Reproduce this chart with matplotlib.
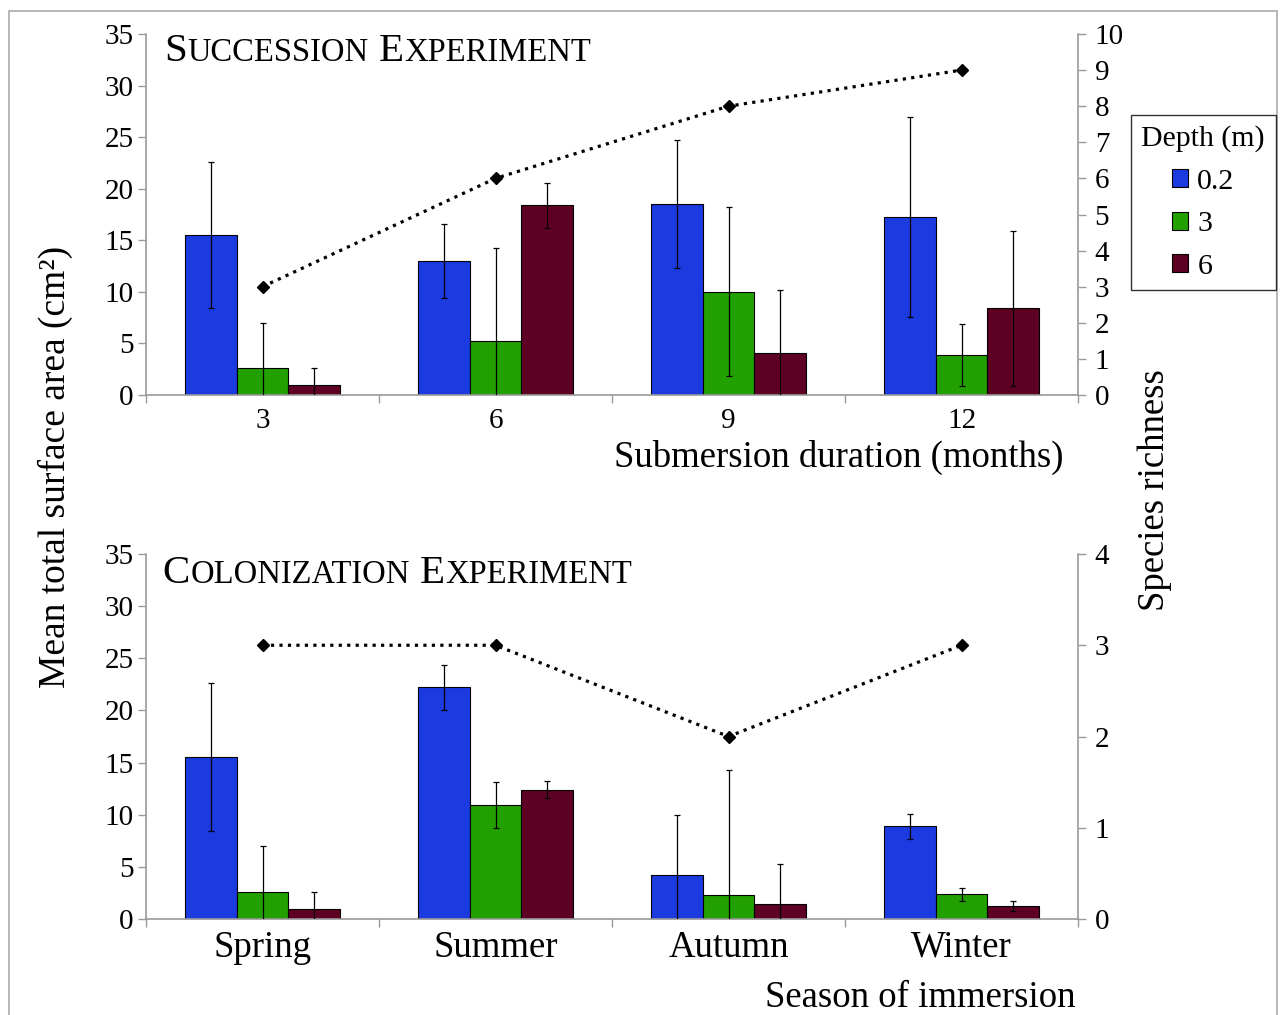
import numpy as np
import matplotlib.pyplot as plt
from matplotlib.patches import Patch, Rectangle
from matplotlib.offsetbox import TextArea, HPacker, AnchoredOffsetbox

plt.rcParams['font.family'] = ['Liberation Serif', 'DejaVu Serif']

# === data ===
depths = ['0.2', '3', '6']
colors = ['#1b3be0', '#22a000', '#5e0024']

months = ['3', '6', '9', '12']
succ_area_02 = [15.5, 13.0, 18.5, 17.3]
succ_err_02 = [7.1, 3.6, 6.2, 9.7]
succ_area_3 = [2.6, 5.2, 10.0, 3.9]
succ_err_3 = [4.4, 9.1, 8.2, 3.0]
succ_area_6 = [1.0, 18.4, 4.1, 8.4]
succ_err_6 = [1.6, 2.2, 6.1, 7.5]
succ_richness = [3, 6, 8, 9]

seasons = ['Spring', 'Summer', 'Autumn', 'Winter']
col_area_02 = [15.5, 22.2, 4.2, 8.9]
col_err_02 = [7.1, 2.2, 5.8, 1.2]
col_area_3 = [2.6, 10.9, 2.3, 2.35]
col_err_3 = [4.4, 2.2, 12.0, 0.6]
col_area_6 = [1.0, 12.4, 1.4, 1.25]
col_err_6 = [1.6, 0.8, 3.9, 0.45]
col_richness = [3, 3, 2, 3]

GRAY = '#9a9a9a'
W, H = 1285, 1015
TICK_FS = 21


def small_caps(ax, words, x, y, big=29.5, small=23.5):
    parts = []
    for i, w in enumerate(words):
        if i > 0:
            parts.append(TextArea(' ', textprops=dict(size=big)))
        parts.append(TextArea(w[0], textprops=dict(size=big)))
        parts.append(TextArea(w[1:].upper(), textprops=dict(size=small)))
    box = HPacker(children=parts, align='baseline', pad=0, sep=0)
    anc = AnchoredOffsetbox(loc='lower left', child=box, pad=0, borderpad=0,
                            frameon=False, bbox_to_anchor=(x, y),
                            bbox_transform=ax.transAxes)
    ax.add_artist(anc)


def draw_panel(ax, cats, areas, errs, richness, rmax, cat_size, cat_pad):
    x = np.arange(len(cats))
    bw = 0.222
    for k in range(3):
        ax.bar(x + (k - 1) * bw, areas[k], bw, color=colors[k],
               edgecolor='black', linewidth=0.8, zorder=2)
        ax.errorbar(x + (k - 1) * bw, areas[k], yerr=errs[k], fmt='none',
                    ecolor='black', elinewidth=0.9, capsize=2.3,
                    capthick=0.9, zorder=3)
    ax.set_xlim(-0.5, len(cats) - 0.5)
    ax.set_ylim(0, 35)
    ax.set_yticks(range(0, 36, 5))
    ax.set_xticks(x)
    ax.set_xticklabels(cats, fontsize=cat_size)
    ax.set_xticks(np.arange(-0.5, len(cats)), minor=True)
    ax.tick_params(axis='x', which='major', length=0, pad=cat_pad)
    ax.tick_params(axis='x', which='minor', length=6, color=GRAY, width=1)
    ax.tick_params(axis='y', labelsize=TICK_FS, length=6, color=GRAY, width=1, pad=3)
    for s in ['top', 'right']:
        ax.spines[s].set_visible(False)
    for s in ['left', 'bottom']:
        ax.spines[s].set_color(GRAY)
        ax.spines[s].set_linewidth(1.2)

    ax2 = ax.twinx()
    ax2.plot(x, richness, color='black', linestyle=':', linewidth=2.3,
             marker='D', markersize=6, zorder=4)
    ax2.set_ylim(0, rmax)
    ax2.set_yticks(range(0, rmax + 1))
    ax2.tick_params(axis='y', labelsize=TICK_FS, length=6, color=GRAY, width=1, pad=6)
    for s in ['top', 'left', 'bottom']:
        ax2.spines[s].set_visible(False)
    ax2.spines['right'].set_color(GRAY)
    ax2.spines['right'].set_linewidth(1.2)
    return ax2


fig = plt.figure(figsize=(W / 100, H / 100), dpi=100)
left, right = 146 / W, 1078 / W
ax_top = fig.add_axes([left, 1 - 395 / H, right - left, 361 / H])
ax_bot = fig.add_axes([left, 1 - 919 / H, right - left, 365 / H])

draw_panel(ax_top, months, [succ_area_02, succ_area_3, succ_area_6],
           [succ_err_02, succ_err_3, succ_err_6], succ_richness, 10, 21, 9)
draw_panel(ax_bot, seasons, [col_area_02, col_area_3, col_area_6],
           [col_err_02, col_err_3, col_err_6], col_richness, 4, 26.5, 8)

small_caps(ax_top, ['Succession', 'Experiment'], 0.020, 0.900)
small_caps(ax_bot, ['Colonization', 'Experiment'], 0.018, 0.895)

ax_top.set_xlabel('Submersion duration (months)', fontsize=26.5, ha='right')
ax_top.xaxis.set_label_coords(0.984, -0.125)
ax_bot.set_xlabel('Season of immersion', fontsize=26.5, ha='right')
ax_bot.xaxis.set_label_coords(0.997, -0.168)

fig.text(55 / W, 1 - 467 / H, 'Mean total surface area (cm²)', fontsize=27,
         rotation=90, ha='center', va='center')
fig.text(1155 / W, 1 - 490 / H, 'Species richness', fontsize=26.5,
         rotation=90, ha='center', va='center')

handles = [Patch(facecolor=c, edgecolor='black', linewidth=0.8) for c in colors]
leg = fig.legend(handles, depths, title='Depth (m)', loc='upper left',
                 bbox_to_anchor=(1131 / W, 1 - 115 / H), fontsize=21.5,
                 title_fontsize=21.5, frameon=True, fancybox=False,
                 edgecolor='black', handlelength=0.55, handleheight=0.55,
                 handletextpad=0.3, labelspacing=0.55, borderpad=0.35,
                 borderaxespad=0)
leg.get_frame().set_linewidth(1.0)

fig.add_artist(Rectangle((9 / W, -0.05), (1277 - 9) / W, 1 - 11 / H + 0.05,
                         transform=fig.transFigure, fill=False,
                         edgecolor='#aaaaaa', linewidth=1.2))

fig.savefig('out.png', dpi=100)
